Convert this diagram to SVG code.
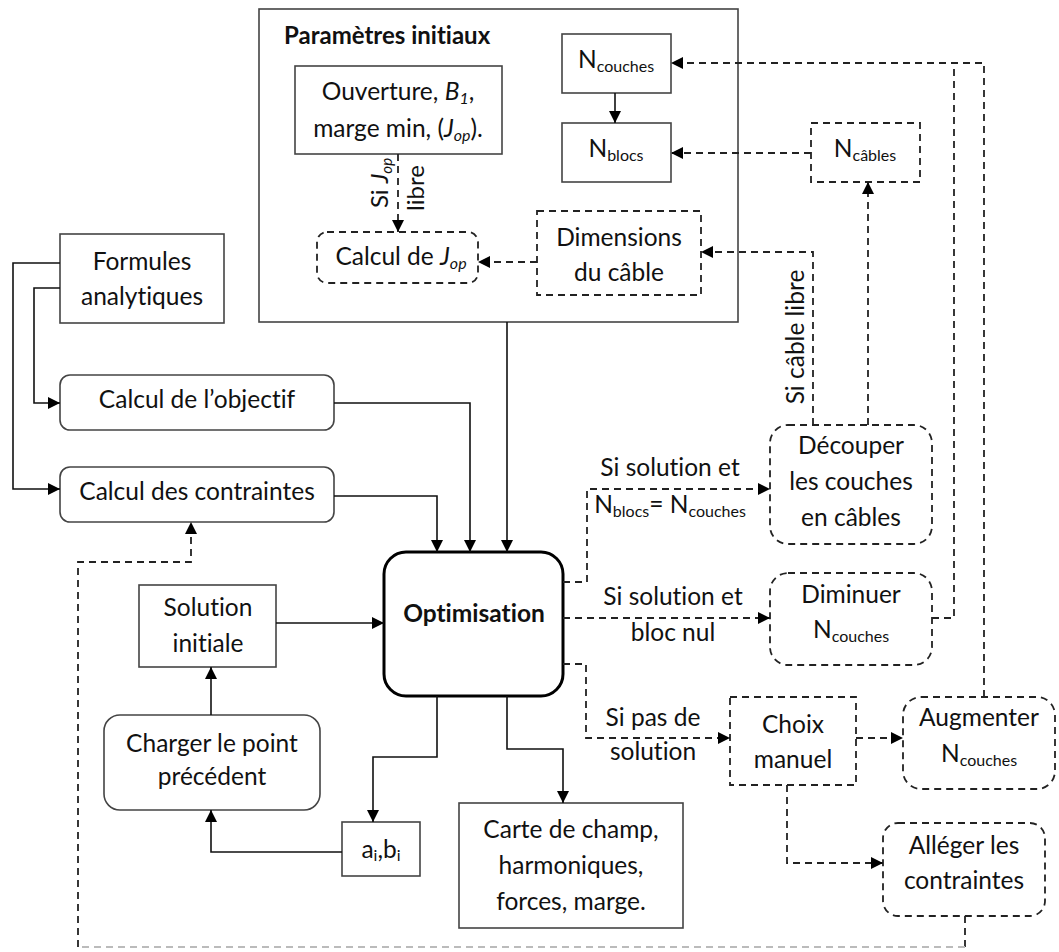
<svg xmlns="http://www.w3.org/2000/svg" width="1059" height="952" viewBox="0 0 1059 952">
<style>
text{font-family:Lato,"Liberation Sans",sans-serif;font-size:24.5px;fill:#111;font-variant-ligatures:none;}
.c{text-anchor:middle;}
.b{font-weight:bold;}
.sub{font-size:16px;}
.box{fill:#fff;stroke:#444;stroke-width:1.6;}
.dbox{fill:#fff;stroke:#222;stroke-width:1.8;stroke-dasharray:7 5;}
.opt{fill:#fff;stroke:#000;stroke-width:3;}
.ln{fill:none;stroke:#111;stroke-width:1.6;marker-end:url(#ah);}
.ln0{fill:none;stroke:#111;stroke-width:1.6;}
.dl{fill:none;stroke:#222;stroke-width:1.8;stroke-dasharray:7 5;marker-end:url(#ah);}
.dl0{fill:none;stroke:#222;stroke-width:1.8;stroke-dasharray:7 5;}
</style>
<defs>
<marker id="ah" viewBox="0 0 12 12" refX="12" refY="6" markerWidth="12" markerHeight="12" orient="auto" markerUnits="userSpaceOnUse"><path d="M0,0 L12,6 L0,12 z" fill="#000"/></marker>
</defs>
<rect width="1059" height="952" fill="#fff"/>

<g id="params">
<rect class="box" x="259" y="9" width="479" height="313"/>
<text class="b" x="284" y="44" style="font-size:24px">Paramètres initiaux</text>
</g>
<g id="ouverture">
<rect class="box" x="295" y="66" width="207" height="88"/>
<text class="c" x="398" y="100">Ouverture, <tspan font-style="italic">B</tspan><tspan class="sub" font-style="italic" dy="4">1</tspan><tspan dy="-4">,</tspan></text>
<text class="c" x="398" y="137">marge min, (<tspan font-style="italic">J</tspan><tspan class="sub" font-style="italic" dy="4">op</tspan><tspan dy="-4">).</tspan></text>
</g>
<g id="ncouches">
<rect class="box" x="562" y="34" width="109" height="59"/>
<text class="c" x="616" y="68">N<tspan class="sub" dy="4">couches</tspan></text>
</g>
<g id="nblocs">
<rect class="box" x="562" y="123" width="109" height="59"/>
<text class="c" x="616" y="157">N<tspan class="sub" dy="4">blocs</tspan></text>
</g>
<g id="calcjop">
<rect class="dbox" x="317" y="232" width="161" height="51" rx="10"/>
<text class="c" x="401" y="265">Calcul de <tspan font-style="italic">J</tspan><tspan class="sub" font-style="italic" dy="4">op</tspan></text>
</g>
<g id="dimensions">
<rect class="dbox" x="537" y="211" width="164" height="84"/>
<text class="c" x="619" y="246">Dimensions</text>
<text class="c" x="619" y="281">du câble</text>
</g>
<g id="ncables">
<rect class="dbox" x="811" y="123" width="109" height="59"/>
<text class="c" x="865" y="157">N<tspan class="sub" dy="4">câbles</tspan></text>
</g>
<g id="formules">
<rect class="box" x="60" y="234" width="164" height="89"/>
<text class="c" x="142" y="270">Formules</text>
<text class="c" x="142" y="305">analytiques</text>
</g>
<g id="objectif">
<rect class="box" x="60" y="375" width="274" height="55" rx="10"/>
<text class="c" x="197" y="408">Calcul de l’objectif</text>
</g>
<g id="contraintes">
<rect class="box" x="60" y="467" width="274" height="55" rx="10"/>
<text class="c" x="197" y="500">Calcul des contraintes</text>
</g>
<g id="optimisation">
<rect class="opt" x="384" y="552" width="179" height="144" rx="22"/>
<text class="c b" x="474" y="622">Optimisation</text>
</g>
<g id="solution">
<rect class="box" x="139" y="585" width="137" height="82"/>
<text class="c" x="208" y="616">Solution</text>
<text class="c" x="208" y="652">initiale</text>
</g>
<g id="charger">
<rect class="box" x="104" y="715" width="216" height="95" rx="16"/>
<text class="c" x="212" y="752">Charger le point</text>
<text class="c" x="212" y="785">précédent</text>
</g>
<g id="aibi">
<rect class="box" x="342" y="822" width="78" height="54"/>
<text class="c" x="381" y="858">a<tspan class="sub" dy="3">i</tspan><tspan dy="-3">,b</tspan><tspan class="sub" dy="3">i</tspan></text>
</g>
<g id="carte">
<rect class="box" x="459" y="803" width="224" height="125"/>
<text class="c" x="571" y="838">Carte de champ,</text>
<text class="c" x="571" y="874">harmoniques,</text>
<text class="c" x="571" y="910">forces, marge.</text>
</g>
<g id="decouper">
<rect class="dbox" x="770" y="425" width="162" height="119" rx="18"/>
<text class="c" x="851" y="454">Découper</text>
<text class="c" x="851" y="490">les couches</text>
<text class="c" x="851" y="526">en câbles</text>
</g>
<g id="diminuer">
<rect class="dbox" x="770" y="573" width="162" height="92" rx="18"/>
<text class="c" x="851" y="603">Diminuer</text>
<text class="c" x="851" y="638">N<tspan class="sub" dy="4">couches</tspan></text>
</g>
<g id="choix">
<rect class="dbox" x="730" y="697" width="126" height="88"/>
<text class="c" x="793" y="733">Choix</text>
<text class="c" x="793" y="768">manuel</text>
</g>
<g id="augmenter">
<rect class="dbox" x="903" y="697" width="152" height="92" rx="18"/>
<text class="c" x="979" y="726">Augmenter</text>
<text class="c" x="979" y="762">N<tspan class="sub" dy="4">couches</tspan></text>
</g>
<g id="alleger">
<rect class="dbox" x="883" y="823" width="162" height="93" rx="15"/>
<text class="c" x="964" y="854">Alléger les</text>
<text class="c" x="964" y="889">contraintes</text>
</g>

<g id="connectors">
<path class="ln" d="M615,93 V123"/>
<path class="dl" d="M398,154 V232"/>
<path class="dl" d="M537,262 H478"/>
<path class="dl" d="M811,153 H671"/>
<path class="dl" d="M984,697 V63 H671"/>
<path class="dl0" d="M932,618 H954 V63"/>
<path class="dl" d="M868,425 V182"/>
<path class="dl" d="M813,425 V252 H701"/>
<path class="ln" d="M507,322 V552"/>
<path class="ln" d="M334,403 H470 V552"/>
<path class="ln" d="M334,496 H437 V552"/>
<path class="ln" d="M60,263 H13 V489 H60"/>
<path class="ln" d="M60,288 H34 V403 H60"/>
<path class="ln" d="M276,623 H384"/>
<path class="ln" d="M211,715 V667"/>
<path class="ln" d="M342,852 H211 V810"/>
<path class="ln" d="M437,696 V757 H373 V822"/>
<path class="ln" d="M507,696 V749 H563 V803"/>
<path class="dl" d="M563,582 H587 V489 H770"/>
<path class="dl" d="M563,618 H770"/>
<path class="dl" d="M563,664 H586 V738 H730"/>
<path class="dl" d="M856,738 H903"/>
<path class="dl" d="M787,785 V863 H883"/>
<path class="dl0" d="M965,916 V947"/>
<path class="dl0" style="stroke:#bbb" d="M965,947 H78"/>
<path class="dl" d="M78,947 V562 H191 V522"/>
<text transform="translate(388,183) rotate(-90)" class="c" style="font-size:24px">Si <tspan font-style="italic">J</tspan><tspan class="sub" font-style="italic" dy="4" style="font-size:15px">op</tspan></text>
<text transform="translate(424,188) rotate(-90)" class="c" style="font-size:24px">libre</text>
<text transform="translate(804,337) rotate(-90)" class="c">Si câble libre</text>
<text class="c" x="670" y="476">Si solution et</text>
<text class="c" x="670" y="513">N<tspan class="sub" dy="4">blocs</tspan><tspan dy="-4">= N</tspan><tspan class="sub" dy="4">couches</tspan></text>
<text class="c" x="673" y="605">Si solution et</text>
<text class="c" x="673" y="641">bloc nul</text>
<text class="c" x="653" y="726">Si pas de</text>
<text class="c" x="653" y="760">solution</text>
</g>
</svg>
